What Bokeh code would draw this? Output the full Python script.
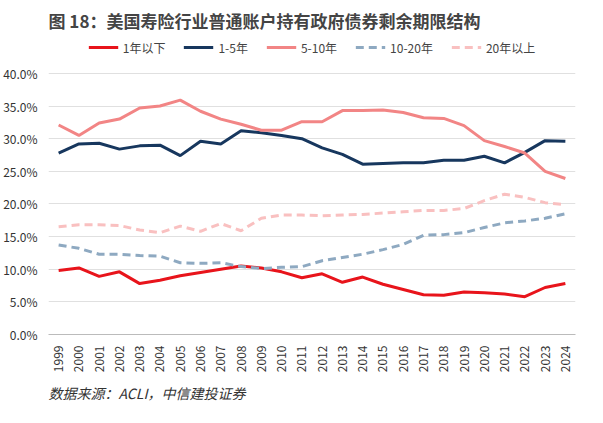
from bokeh.plotting import figure
from bokeh.models import Legend, LegendItem, Title, FixedTicker
from bokeh.embed import file_html
from bokeh.resources import INLINE

years = list(range(1999, 2025))
s1 = [9.8,10.2,8.9,9.6,7.8,8.3,9.0,9.5,10.0,10.5,10.2,9.6,8.7,9.3,8.0,8.8,7.7,6.9,6.1,6.0,6.5,6.4,6.2,5.8,7.2,7.8]
s2 = [27.8,29.2,29.3,28.4,28.9,29.0,27.4,29.6,29.2,31.2,30.9,30.5,30.0,28.6,27.6,26.1,26.2,26.3,26.3,26.7,26.7,27.3,26.3,27.9,29.7,29.6]
s3 = [32.1,30.5,32.4,33.0,34.7,35.0,35.9,34.2,33.0,32.2,31.3,31.3,32.6,32.6,34.3,34.3,34.4,34.0,33.2,33.1,32.0,29.7,28.8,27.8,25.0,23.9]
s4 = [13.7,13.2,12.3,12.3,12.1,12.0,11.0,10.9,11.0,10.4,10.1,10.3,10.4,11.3,11.8,12.3,13.0,13.8,15.2,15.3,15.6,16.4,17.1,17.4,17.8,18.5]
s5 = [16.5,16.8,16.8,16.7,16.0,15.6,16.6,15.8,17.0,15.9,17.8,18.3,18.3,18.2,18.3,18.4,18.6,18.8,19.0,19.0,19.3,20.5,21.5,21.0,20.2,19.9]
names = ["1年以下", "1-5年", "5-10年", "10-20年", "20年以上"]
colors = ["#E8141B", "#17375E", "#F28585", "#8EA9C1", "#F9C0C0"]
dashes = ["solid", "solid", "solid", "8 5", "8 5"]
ticks = [0, 5, 10, 15, 20, 25, 30, 35, 40]

F = "Noto Sans CJK SC"
p = figure(width=587, height=407, output_backend="svg", toolbar_location=None,
           x_range=(1998.5, 2024.5), y_range=(0, 45.5), min_border_left=10, min_border_right=12)
p.title.text = "图 18：美国寿险行业普通账户持有政府债券剩余期限结构"
p.title.text_font = F
p.title.text_font_size = "17px"
p.title.text_font_style = "bold"
p.add_layout(Title(text="数据来源：ACLI，中信建投证券", text_font=F, text_font_size="14px",
                   text_font_style="italic", text_color="#333333"), "below")
items = []
for ys, n, c, d in zip([s1, s2, s3, s4, s5], names, colors, dashes):
    r = p.line(years, ys, color=c, line_width=3, line_dash=d)
    items.append(LegendItem(label=n, renderers=[r]))
leg = Legend(items=items, orientation="horizontal", label_text_font=F, label_text_font_size="12px",
             border_line_color=None, background_fill_alpha=0, spacing=18, glyph_width=30,
             location="top", padding=2, margin=0)
p.add_layout(leg)
p.xaxis.ticker = FixedTicker(ticks=years)
p.xaxis.major_label_orientation = 1.5708
p.yaxis.ticker = FixedTicker(ticks=ticks)
p.yaxis.major_label_overrides = {v: f"{v:.1f}%" for v in ticks}
for ax in (p.xaxis, p.yaxis):
    ax.major_label_text_font = F
    ax.major_label_text_font_size = "12px"
    ax.major_label_text_color = "#333333"
    ax.minor_tick_line_color = None
p.yaxis.axis_line_color = None
p.yaxis.major_tick_line_color = None
p.xaxis.axis_line_color = "#BBBBBB"
p.xaxis.major_tick_line_color = None
p.xgrid.grid_line_color = None
p.ygrid.grid_line_color = "#E0E0E0"
p.outline_line_color = None
open("out.html", "w").write(file_html(p, INLINE))
